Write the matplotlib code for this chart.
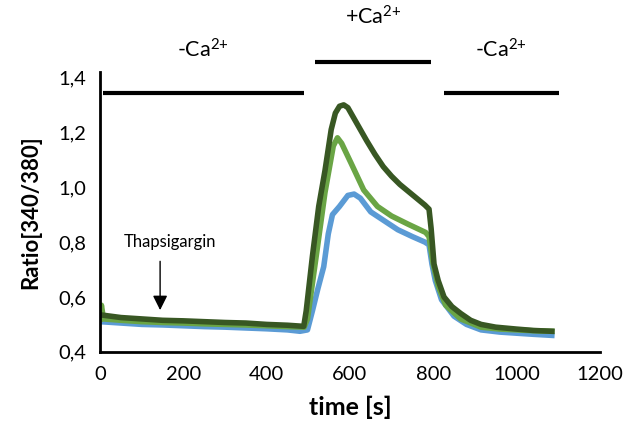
import matplotlib.pyplot as plt

plt.rcParams['font.family'] = ['Lato', 'DejaVu Sans']
plt.rcParams['mathtext.fontset'] = 'custom'
plt.rcParams['mathtext.rm'] = 'Lato'
plt.rcParams['mathtext.default'] = 'regular'

# blue trace
t_blue = [0, 50, 100, 150, 200, 250, 300, 350, 400, 450, 480, 498, 510, 523, 537, 548, 558,
          575, 595, 610, 625, 650, 680, 715, 750, 780, 790, 797, 805, 820, 850, 880, 915,
          960, 1000, 1040, 1085]
v_blue = [0.51, 0.505, 0.50, 0.498, 0.495, 0.492, 0.49, 0.487, 0.484, 0.48, 0.475, 0.48, 0.55,
          0.63, 0.71, 0.83, 0.90, 0.93, 0.97, 0.975, 0.96, 0.91, 0.88, 0.845, 0.82, 0.80, 0.79,
          0.72, 0.66, 0.59, 0.53, 0.50, 0.48, 0.472, 0.468, 0.464, 0.46]

# light green trace
t_light = [0, 3, 8, 50, 100, 150, 200, 250, 300, 350, 400, 450, 490, 498, 520, 540, 560, 570,
           580, 602, 633, 666, 700, 740, 782, 790, 800, 812, 830, 866, 915, 960, 1000, 1040, 1085]
v_light = [0.52, 0.57, 0.52, 0.515, 0.51, 0.507, 0.505, 0.502, 0.50, 0.498, 0.495, 0.492, 0.49,
           0.52, 0.76, 0.98, 1.15, 1.18, 1.16, 1.09, 0.99, 0.93, 0.895, 0.865, 0.835, 0.82,
           0.72, 0.64, 0.57, 0.52, 0.49, 0.483, 0.48, 0.477, 0.475]

# dark green trace
t_dark = [0, 50, 100, 150, 200, 250, 300, 350, 400, 450, 489, 495, 510, 525, 540, 555, 565,
          575, 585, 595, 610, 625, 640, 660, 680, 700, 720, 740, 760, 780, 790, 795, 802, 812,
          826, 845, 866, 890, 915, 950, 1000, 1040, 1085]
v_dark = [0.535, 0.525, 0.52, 0.515, 0.513, 0.51, 0.507, 0.505, 0.50, 0.497, 0.493, 0.55, 0.75,
          0.93, 1.06, 1.21, 1.27, 1.295, 1.30, 1.29, 1.25, 1.21, 1.17, 1.12, 1.075, 1.04, 1.01,
          0.985, 0.96, 0.935, 0.92, 0.85, 0.72, 0.66, 0.60, 0.565, 0.54, 0.515, 0.50, 0.49,
          0.483, 0.478, 0.475]

# condition bars: (start, end, level, label, label_y)
bars = [(7, 489, 1.345, '-Ca$^{2{+}}$', 1.50),
        (517, 794, 1.458, '+Ca$^{2{+}}$', 1.62),
        (825, 1102, 1.345, '-Ca$^{2{+}}$', 1.50)]

fig = plt.figure(figsize=(6.26, 4.36), dpi=100)
ax = fig.add_axes([0.16, 0.193, 0.798, 0.642])

ax.plot(t_blue, v_blue, color='#5B9BD5', lw=4)
ax.plot(t_light, v_light, color='#6AA545', lw=4)
ax.plot(t_dark, v_dark, color='#385723', lw=4)

for x0, x1, lev, lab, ly in bars:
    ax.plot([x0, x1], [lev, lev], color='black', lw=3, clip_on=False, solid_capstyle='butt')
    ax.text((x0 + x1) / 2, ly, lab, ha='center', va='center', fontsize=15.5, clip_on=False)

ax.annotate('', xy=(144, 0.542), xytext=(144, 0.74),
            arrowprops=dict(arrowstyle='-|>', color='black', lw=1, mutation_scale=22))
ax.text(168, 0.80, 'Thapsigargin', ha='center', va='center', fontsize=12)

ax.set_xlim(0, 1200)
ax.set_ylim(0.4, 1.42)
ax.set_xticks(range(0, 1201, 200))
ax.set_yticks([0.4, 0.6, 0.8, 1.0, 1.2, 1.4])
ax.set_yticklabels(['0,4', '0,6', '0,8', '1,0', '1,2', '1,4'])
ax.tick_params(length=0, labelsize=14.5, pad=10)
ax.spines['top'].set_visible(False)
ax.spines['right'].set_visible(False)
ax.spines['left'].set_linewidth(2)
ax.spines['bottom'].set_linewidth(2)
ax.set_xlabel('time [s]', fontsize=18, fontweight='bold', labelpad=9)
ax.set_ylabel('Ratio[340/380]', fontsize=16, fontweight='bold', labelpad=12)

fig.savefig('out.png', dpi=100)
